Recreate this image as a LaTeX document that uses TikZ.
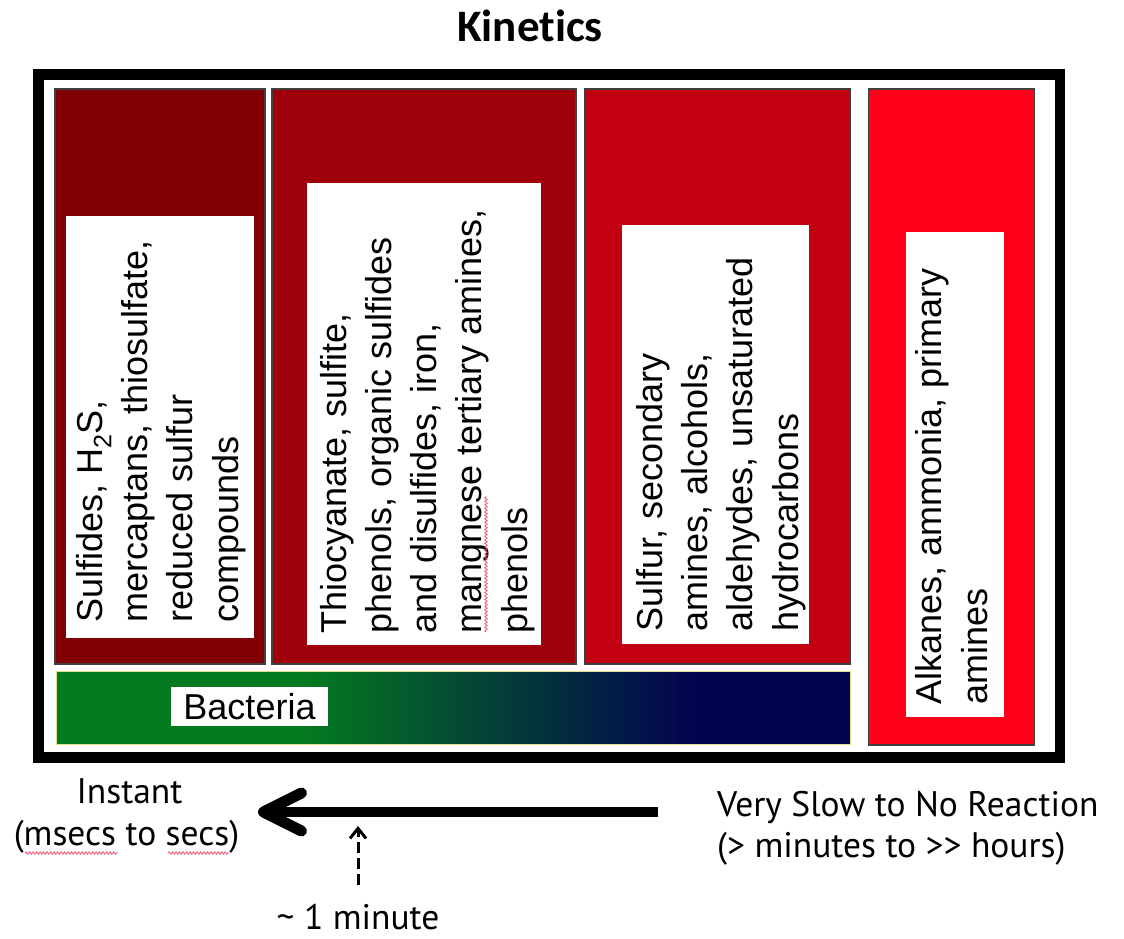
\documentclass[tikz,border=0pt]{standalone}
\usepackage{fontspec}
\setmainfont{Liberation Sans}
\newfontfamily\titlefont[Ligatures=NoCommon]{Carlito}
\newfontfamily\gillfont{PT Sans}
\usetikzlibrary{arrows.meta,decorations.pathmorphing}
\definecolor{colA}{HTML}{800004}
\definecolor{colB}{HTML}{A0000C}
\definecolor{colC}{HTML}{C20012}
\definecolor{colD}{HTML}{FF0019}
\definecolor{bgreen}{HTML}{047A20}
\definecolor{bnavy}{HTML}{030250}
\definecolor{bactedge}{HTML}{E6E08A}
\definecolor{spell}{HTML}{F0506A}
\pgfdeclarehorizontalshading{bactshade}{100bp}{color(0bp)=(bgreen); color(40.5bp)=(bgreen); color(65.5bp)=(bnavy); color(100bp)=(bnavy)}
\tikzset{
  colbox/.style={draw=black!75, line width=1.2pt},
  whitebox/.style={fill=white},
  boxtext/.style={rotate=90, align=left, inner sep=0pt, anchor=base west,
    font=\fontsize{36}{45.2}\selectfont},
  lowtext/.style={inner sep=0pt, font=\gillfont\fontsize{35.5}{42}\selectfont},
  squiggle/.style={draw=spell, line width=0.8pt, decorate,
    decoration={snake, amplitude=1.2pt, segment length=3.5pt}}
}
\begin{document}
\begin{tikzpicture}[x=1pt,y=-1pt]
\useasboundingbox (0,0) rectangle (1124,939);
% title
\node[anchor=base, inner sep=0pt, font=\titlefont\bfseries\fontsize{45}{54}\selectfont] (title) at (530,42) {Kinetics};
% outer frame
\draw[line width=10.5pt] (38.3,74.5) rectangle (1059.8,757.5);
% columns
\draw[colbox, fill=colA] (55,89) rectangle (265,664);
\draw[colbox, fill=colB] (272,89) rectangle (576,664);
\draw[colbox, fill=colC] (584.5,89) rectangle (850.6,664);
\draw[colbox, fill=colD] (868.6,89) rectangle (1034.8,745);
% bacteria bar
\shade[shading=bactshade] (56,671) rectangle (850,744);
\draw[draw=bactedge, line width=1pt] (56,671) rectangle (850,744);
% white boxes
\fill[whitebox] (66,216) rectangle (254,638);
\fill[whitebox] (307,183) rectangle (541,645);
\fill[whitebox] (622,225) rectangle (809,644);
\fill[whitebox] (906,232) rectangle (1004,717);
% texts (anchor = baseline of the last line)
\node[boxtext] (t1) at (238,623) {Sulfides, H\textsubscript{2}S,\\mercaptans, thiosulfate,\\reduced sulfur\\compounds};
\node[boxtext] (t2) at (527,634) {Thiocyanate, sulfite,\\phenols, organic sulfides\\and disulfides, iron,\\mangnese tertiary amines,\\phenols};
\node[boxtext] (t3) at (798,632) {Sulfur, secondary\\amines, alcohols,\\aldehydes, unsaturated\\hydrocarbons};
\node[boxtext] (t4) at (987,705) {Alkanes, ammonia, primary\\amines};
\node[fill=white, inner sep=0pt, minimum width=157pt, minimum height=39pt,
  font=\fontsize{36}{43}\selectfont] (bact) at (249.5,706.5) {Bacteria};
\draw[squiggle] (486,632) -- (486,496);
% bottom scale
\node[lowtext, anchor=base] (inst) at (129.5,803) {Instant};
\node[lowtext, anchor=base] (ms) at (126.5,845) {(msecs to secs)};
\draw[squiggle] (25,853) -- (118,853);
\draw[squiggle] (168,853) -- (229,853);
\node[lowtext, anchor=base west] (slow) at (717,816) {Very Slow to No Reaction};
\node[lowtext, anchor=base west] (slow2) at (717,857) {(> minutes to >> hours)};
\node[lowtext, anchor=base] (min) at (358,929) {\char`\~{} 1 minute};
\coordinate (arrR) at (658,812);
\coordinate (arrL) at (258,812);
\draw[line width=10pt, -{Straight Barb[length=38pt,width=38pt,line width=11pt,round]}] (arrR) -- (arrL);
\coordinate (dB) at (358,885);
\coordinate (dT) at (358,826);
\draw[line width=3pt, dash pattern=on 11pt off 5pt, -{Straight Barb[length=10pt,width=16pt,line width=3pt]}] (dB) -- (dT);
\end{tikzpicture}
\end{document}
